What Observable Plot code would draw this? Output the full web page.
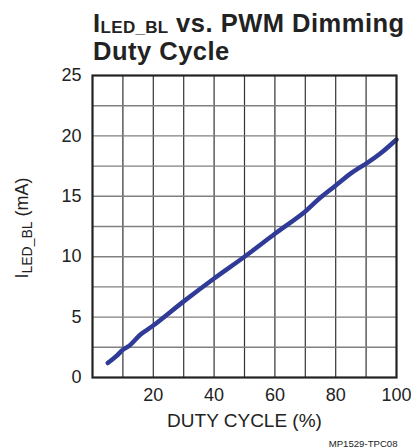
<!DOCTYPE html>
<html>
<head>
<meta charset="utf-8">
<script src="https://cdn.jsdelivr.net/npm/d3@7"></script>
<script src="https://cdn.jsdelivr.net/npm/@observablehq/plot@0.6"></script>
<style>
  html, body { margin: 0; padding: 0; background: #fff; }
  #wrap { position: relative; width: 411px; height: 448px; overflow: hidden; }
  #title { position: absolute; left: 93px; top: 8.5px; font-family: "Liberation Sans", Arial, sans-serif; font-weight: bold; font-size: 25.5px; letter-spacing: 0.5px; line-height: 28.6px; color: #222; white-space: nowrap; }
  #title .sub { font-size: 17px; position: relative; top: 1px; line-height: 0; letter-spacing: 0.3px; }
  #chart { position: absolute; left: 0; top: 0; }
</style>
</head>
<body>
<div id="wrap">
  <div id="chart"></div>
  <div id="title">I<span class="sub">LED_BL</span> vs. PWM Dimming<br>Duty Cycle</div>
</div>
<script>
// Data
const dutyCycle = [5, 8, 10, 12, 16, 20, 30, 40, 50, 60, 70, 75, 80, 85, 88, 90, 95, 100];
const iLed      = [1.2, 1.8, 2.3, 2.6, 3.6, 4.3, 6.3, 8.2, 10.0, 11.9, 13.75, 14.9, 15.9, 16.9, 17.4, 17.7, 18.6, 19.7];
const xTicks = [20, 40, 60, 80, 100];
const yTicks = [0, 5, 10, 15, 20, 25];
const xGrid = [10, 20, 30, 40, 50, 60, 70, 80, 90];
const yGrid = [2.5, 5, 7.5, 10, 12.5, 15, 17.5, 20, 22.5];
const xLabel = "DUTY CYCLE (%)";
const caption = "MP1529-TPC08";

const data = dutyCycle.map((d, i) => ({x: d, y: iLed[i]}));

const plot = Plot.plot({
  width: 411,
  height: 448,
  marginTop: 75,
  marginLeft: 92,
  marginRight: 15,
  marginBottom: 71,
  style: {fontFamily: "'Liberation Sans', Arial, sans-serif", color: "#222", background: "#fff"},
  x: {domain: [0, 100]},
  y: {domain: [0, 25]},
  marks: [
    Plot.ruleX(xGrid, {stroke: "#333", strokeWidth: 1.2}),
    Plot.ruleY(yGrid, {stroke: "#808080", strokeWidth: 1.4}),
    Plot.line(data, {x: "x", y: "y", stroke: "#2f3b96", strokeWidth: 4.5, strokeLinecap: "round", strokeLinejoin: "round", curve: "catmull-rom"}),
    Plot.frame({stroke: "#222", strokeWidth: 2.2}),
    Plot.axisX({ticks: xTicks, tickSize: 0, tickPadding: 11, fontSize: 18, label: null}),
    Plot.axisY({ticks: yTicks, tickSize: 0, tickPadding: 11, fontSize: 18, label: null}),
    Plot.text([xLabel], {frameAnchor: "bottom", lineAnchor: "middle", dy: 43, fontSize: 19, fill: "#222"}),
    Plot.text([caption], {frameAnchor: "bottom-right", lineAnchor: "bottom", textAnchor: "end", dx: 1, dy: 69, fontSize: 9.6, fill: "#222"})
  ]
});
document.getElementById("chart").appendChild(plot);

// Y axis label with subscript
const svg = d3.select(plot);
const yl = svg.append("text")
  .attr("transform", "translate(28,228) rotate(-90)")
  .attr("text-anchor", "middle")
  .attr("font-size", 18)
  .attr("fill", "#222")
  .attr("font-family", "'Liberation Sans', Arial, sans-serif");
yl.append("tspan").text("I");
yl.append("tspan").attr("font-size", 14).attr("dy", 4).text("LED_BL");
yl.append("tspan").attr("dy", -4).text(" (mA)");
</script>
</body>
</html>
